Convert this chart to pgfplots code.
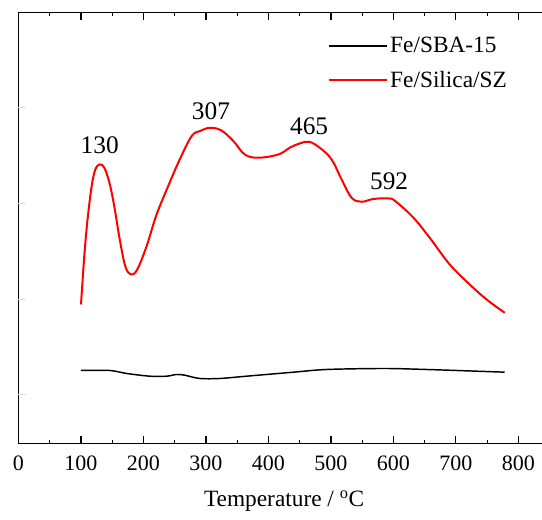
\documentclass[border=0pt]{standalone}
\usepackage{pgfplots}
\pgfplotsset{compat=1.18}
\usepackage{fontspec}
\setmainfont{Liberation Serif}

\begin{document}
\begin{tikzpicture}
\begin{axis}[
  at={(13.875pt,57.375pt)}, anchor=south west,
  scale only axis, width=398.4pt, height=323.3pt,
  xmin=0, xmax=850, ymin=0, ymax=431,
  xtick={0,100,...,800}, minor x tick num=1,
  xtick pos=both, xtick align=inside,
  major tick length=5.5pt, minor tick length=2.5pt,
  ytick=\empty,
  extra y ticks={49,144,240,336}, extra y tick labels={},
  extra y tick style={ytick pos=left,
    tick style={draw=gray!25, line width=0.3pt}},
  axis line style={line width=0.9pt},
  x tick style={line width=0.8pt, black},
  /pgf/number format/assume math mode=true,
  x tick label style={font=\rmfamily\fontsize{16.5}{18}\selectfont, yshift=-6pt},
  xlabel={Temperature / $^{\mathrm{o}}$C},
  xlabel style={font=\rmfamily\fontsize{17.5}{20}\selectfont, yshift=-8pt},
  legend style={draw=none, fill=none, at={(0.575,0.955)}, anchor=north west,
    font=\rmfamily\fontsize{17.5}{20}\selectfont, row sep=8pt},
  legend cell align=left,
  legend image code/.code={\draw[#1] (0pt,0pt) -- (43pt,0pt);},
]
% Fe/SBA-15
\addplot[black, line width=1.1pt, smooth, tension=0.5] coordinates {
  (100,73) (146,73) (173,70) (210,67.3) (237,67.3) (253,69) (266,68.3)
  (290,65) (322,65) (365,67.3) (440,71.3) (493,74) (584,75) (653,74)
  (733,72.3) (778,71.3)
};
\addlegendentry{Fe/SBA-15}
% Fe/Silica/SZ
\addplot[red, line width=1.5pt, smooth, tension=0.6] coordinates {
  (100,139) (105,185) (110,221) (117,257) (123,274) (130,279) (137,276)
  (145,262) (153,238) (162,204) (171,177) (180,169) (190,174) (205,197.3)
  (221,229) (242,261) (258,284) (277,307.3) (290,312.3) (307,315.7)
  (325,312.8) (344,302.3) (362,289) (384,285.7) (416,289) (434,295.7)
  (450,300) (465,301.7) (482,295.7) (501,284) (517,264) (533,245.7)
  (549,241.7) (568,244.5) (592,245) (603,242.3) (632,225.7) (658,205.7)
  (690,179) (722,159) (749,144) (778,130.7)
};
\addlegendentry{Fe/Silica/SZ}
\node[font=\rmfamily\fontsize{19}{22}\selectfont] at (axis cs:130,298) {130};
\node[font=\rmfamily\fontsize{19}{22}\selectfont] at (axis cs:308,332) {307};
\node[font=\rmfamily\fontsize{19}{22}\selectfont] at (axis cs:465,317) {465};
\node[font=\rmfamily\fontsize{19}{22}\selectfont] at (axis cs:593,262) {592};
\end{axis}
\pgfresetboundingbox
\path[use as bounding box] (0,0) rectangle (406.5pt,390pt);
\end{tikzpicture}
\end{document}
